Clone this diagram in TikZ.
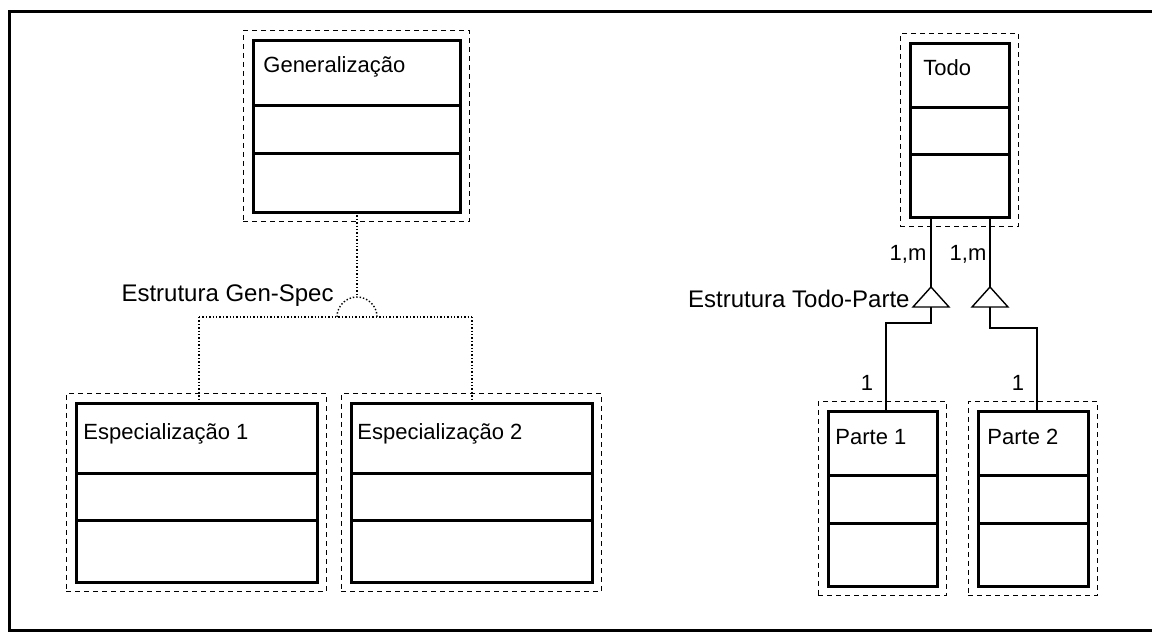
\documentclass[tikz,border=0pt]{standalone}
\usepackage{fontspec}
\setmainfont{Liberation Sans}
\usetikzlibrary{fit}
\begin{document}
\begin{tikzpicture}[x=0.5pt,y=-0.5pt,
  innerbox/.style={draw, line width=1.5pt, inner sep=0pt, outer sep=0pt, rectangle},
  innerline/.style={line width=1.5pt},
  outerbox/.style={draw, line width=0.7pt, dash pattern=on 2.5pt off 2pt, inner sep=4.8pt, rectangle},
  gsline/.style={line width=0.7pt, densely dotted},
  tpline/.style={line width=0.7pt},
  lbl/.style={font=\fontsize{11pt}{13pt}\selectfont, inner sep=0pt},
  biglbl/.style={font=\fontsize{12pt}{14pt}\selectfont, inner sep=0pt},
  mlbl/.style={font=\fontsize{11pt}{13pt}\selectfont, inner sep=0pt},
  frameline/.style={line width=1.5pt}
]
\useasboundingbox (0,0) rectangle (1152,632);
% frame
\draw[frameline] (1152,11) -- (9,11) -- (9,630) -- (1152,630);

% class boxes
\node[innerbox, minimum width=103.5pt, minimum height=86pt] (gen) at (356.5,126) {};
\node[innerbox, minimum width=49.5pt, minimum height=87pt] (todo) at (959.5,130) {};
\node[innerbox, minimum width=120.5pt, minimum height=89.5pt] (spec1) at (196.5,492.5) {};
\node[innerbox, minimum width=120.5pt, minimum height=89.5pt] (spec2) at (471.5,492.5) {};
\node[innerbox, minimum width=54.5pt, minimum height=87.5pt] (parte1) at (882.5,498.5) {};
\node[innerbox, minimum width=55pt, minimum height=87.5pt] (parte2) at (1033,498.5) {};

% outer dashed boxes
\node[outerbox, fit=(gen)] (genO) {};
\node[outerbox, fit=(todo)] (todoO) {};
\node[outerbox, fit=(spec1)] (spec1O) {};
\node[outerbox, fit=(spec2)] (spec2O) {};
\node[outerbox, fit=(parte1)] (parte1O) {};
\node[outerbox, fit=(parte2)] (parte2O) {};

% dividers
\draw[innerline] (gen.west |- 0,105) -- (gen.east |- 0,105);
\draw[innerline] (gen.west |- 0,153) -- (gen.east |- 0,153);
\draw[innerline] (todo.west |- 0,107) -- (todo.east |- 0,107);
\draw[innerline] (todo.west |- 0,154) -- (todo.east |- 0,154);
\foreach \n in {spec1,spec2}{
  \draw[innerline] (\n.west |- 0,473) -- (\n.east |- 0,473);
  \draw[innerline] (\n.west |- 0,520) -- (\n.east |- 0,520);
}
\foreach \n in {parte1,parte2}{
  \draw[innerline] (\n.west |- 0,475) -- (\n.east |- 0,475);
  \draw[innerline] (\n.west |- 0,523) -- (\n.east |- 0,523);
}

% class labels
\node[lbl, anchor=base west] (genL) at (263,72) {Generalização};
\node[lbl, anchor=base west] (todoL) at (923,75) {Todo};
\node[lbl, anchor=base west] (spec1L) at (83,439) {Especialização 1};
\node[lbl, anchor=base west] (spec2L) at (357,439) {Especialização 2};
\node[lbl, anchor=base west] (parte1L) at (835,444) {Parte 1};
\node[lbl, anchor=base west] (parte2L) at (987,444) {Parte 2};

% Gen-Spec structure
\coordinate (gs) at (357,317);
\coordinate (gstop) at (357,297);
\coordinate (gsl) at (199,317);
\coordinate (gsr) at (472,317);
\draw[gsline] (gen.south -| gstop) -- (gstop);
\draw[gsline] (337,317) arc[start angle=180, end angle=0, radius=10pt];
\draw[gsline] (gsl) -- (gsr);
\draw[gsline] (gsl) -- (gsl |- spec1.north);
\draw[gsline] (gsr) -- (gsr |- spec2.north);
\node[biglbl, anchor=east] (gsL) at (334,296) {Estrutura Gen-Spec};

% Todo-Parte structure
\coordinate (ta1) at (931,287);
\coordinate (tb1) at (931,307);
\coordinate (k1) at (886,323);
\coordinate (ta2) at (990,287);
\coordinate (tb2) at (990,307);
\coordinate (k2) at (1037,328);
\draw[tpline] (todo.south -| ta1) -- (ta1);
\draw[tpline] (todo.south -| ta2) -- (ta2);
\draw[tpline] (ta1) -- (913,307) -- (949,307) -- cycle;
\draw[tpline] (ta2) -- (972,307) -- (1008,307) -- cycle;
\draw[tpline] (tb1) |- (k1) -- (k1 |- parte1.north);
\draw[tpline] (tb2) |- (k2) -- (k2 |- parte2.north);

\node[biglbl, anchor=east] (tpL) at (910,299) {Estrutura Todo-Parte};
\node[mlbl] (m1) at (908,254) {1,m};
\node[mlbl] (m2) at (968,254) {1,m};
\node[lbl] (o1) at (867,383) {1};
\node[lbl] (o2) at (1018,383) {1};
\end{tikzpicture}
\end{document}
